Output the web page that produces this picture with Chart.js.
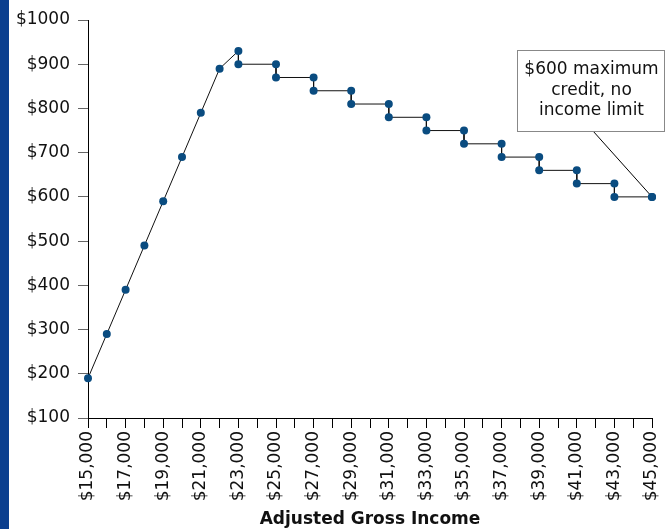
<!DOCTYPE html>
<html>
<head>
<meta charset="utf-8">
<script src="https://cdn.jsdelivr.net/npm/chart.js@4"></script>
<style>
  html, body { margin: 0; padding: 0; background: #fff; }
  #wrap { position: relative; width: 671px; height: 529px; }
  #bar { position: absolute; left: 0; top: 0; width: 9px; height: 529px; background: #0b3f8f; }
  canvas { position: absolute; left: 0; top: 0; }
</style>
</head>
<body>
<div id="wrap">
  <canvas id="c" width="671" height="529"></canvas>
  <div id="bar"></div>
</div>
<script>
// Adjusted gross income (x) and credit amount (y)
const incomeX = [15000, 16000, 17000, 18000, 19000, 20000, 21000, 22000, 23000, 23000,
                 25000, 25000, 27000, 27000, 29000, 29000, 31000, 31000, 33000, 33000,
                 35000, 35000, 37000, 37000, 39000, 39000, 41000, 41000, 43000, 43000, 45000];
const creditY = [190, 290, 390, 490, 590, 690, 790, 890, 930, 900,
                 900, 870, 870, 840, 840, 810, 810, 780, 780, 750,
                 750, 720, 720, 690, 690, 660, 660, 630, 630, 600, 600];
const xMin = 15000, xMax = 45000, xStep = 1000;
const yMin = 100, yMax = 1000, yStep = 100;
const xTitle = 'Adjusted Gross Income';
const noteLines = ['$600 maximum', 'credit, no', 'income limit'];
const noteTarget = { x: 45000, y: 600 };

const FONT = "'DejaVu Sans', sans-serif";

const annotationPlugin = {
  id: 'note',
  afterDraw(chart) {
    const ctx = chart.ctx;
    const xs = chart.scales.x, ys = chart.scales.y;
    const px = xs.getPixelForValue(noteTarget.x);
    const py = ys.getPixelForValue(noteTarget.y);
    const bx = 517, by = 50, bw = 147, bh = 81;
    ctx.save();
    ctx.strokeStyle = '#000';
    ctx.lineWidth = 1;
    ctx.beginPath();
    ctx.moveTo(593, by + bh);
    ctx.lineTo(px, py);
    ctx.stroke();
    ctx.fillStyle = '#fff';
    ctx.fillRect(bx, by, bw, bh);
    ctx.strokeStyle = '#888';
    ctx.strokeRect(bx + 0.5, by + 0.5, bw, bh);
    ctx.fillStyle = '#111';
    ctx.font = "17px " + FONT;
    ctx.textAlign = 'center';
    ctx.textBaseline = 'middle';
    const cy = [70, 91, 111];
    noteLines.forEach((t, i) => ctx.fillText(t, bx + bw / 2 + 1, cy[i]));
    ctx.restore();
    // redraw points on top of connector
    const meta = chart.getDatasetMeta(0);
    const last = meta.data[meta.data.length - 1];
    ctx.save();
    ctx.fillStyle = '#0a4c80';
    ctx.beginPath();
    ctx.arc(last.x, last.y, 4, 0, Math.PI * 2);
    ctx.fill();
    ctx.restore();
  }
};

new Chart(document.getElementById('c'), {
  type: 'scatter',
  data: {
    datasets: [{
      data: incomeX.map((x, i) => ({ x: x, y: creditY[i] })),
      showLine: true,
      clip: false,
      borderColor: '#111',
      borderWidth: 1,
      pointRadius: 4,
      pointHoverRadius: 4,
      pointBackgroundColor: '#0a4c80',
      pointBorderColor: '#0a4c80',
      pointBorderWidth: 0,
      tension: 0
    }]
  },
  options: {
    responsive: false,
    animation: false,
    events: [],
    layout: { padding: { left: 0, right: 19, top: 20, bottom: 0 } },
    plugins: { legend: { display: false }, tooltip: { enabled: false } },
    scales: {
      x: {
        type: 'linear',
        min: xMin, max: xMax,
        afterFit(s) { s.height = 111; s.paddingLeft = 0; s.paddingRight = 0; },
        afterBuildTicks(s) {
          const t = [];
          for (let v = xMin; v <= xMax; v += xStep) t.push({ value: v });
          s.ticks = t;
        },
        ticks: {
          autoSkip: false,
          minRotation: 90, maxRotation: 90,
          padding: 3,
          color: '#111',
          font: { family: FONT, size: 17 },
          callback(v) {
            return ((v - xMin) / xStep) % 2 === 0 ? '$' + Number(v).toLocaleString('en-US') : '';
          }
        },
        grid: { drawOnChartArea: false, drawTicks: true, tickLength: 10, color: '#000', lineWidth: 1 },
        border: { display: true, color: '#000', width: 1 },
        title: {
          display: true, text: xTitle, color: '#111',
          font: { family: FONT, size: 17, weight: 'bold' },
          padding: { top: 2, bottom: -1 }
        }
      },
      y: {
        type: 'linear',
        min: yMin, max: yMax,
        afterFit(s) { s.width = 88; },
        ticks: {
          stepSize: yStep,
          padding: 8,
          color: '#111',
          font: { family: FONT, size: 17 },
          callback(v) { return '$' + v; }
        },
        grid: { drawOnChartArea: false, drawTicks: true, tickLength: 10, color: '#666', lineWidth: 1 },
        border: { display: true, color: '#000', width: 1 }
      }
    }
  },
  plugins: [annotationPlugin]
});
</script>
</body>
</html>
